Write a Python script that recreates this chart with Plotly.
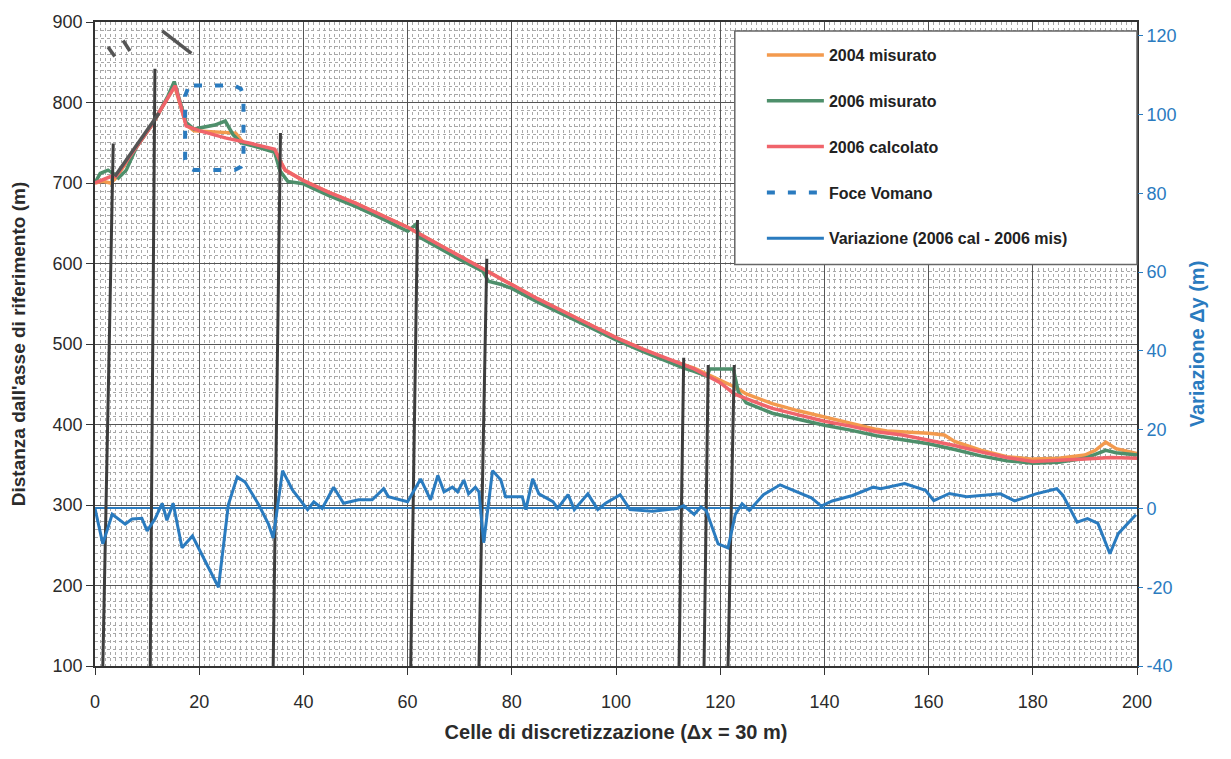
import plotly.graph_objects as go

# ---------------- data ----------------
CALC_X = [0, 1.5, 3, 4, 8, 11, 12.5, 14, 15.4, 16.5, 17.5, 20, 25, 30, 34.5, 35.5, 36.5, 40, 45, 50, 55, 60, 65, 70, 75,
          80, 85, 90, 95, 100, 105, 110, 115, 120, 122.7, 125, 130, 135, 140, 145, 150, 155, 160, 165, 170, 175, 180,
          185, 190, 195, 200]
CALC_Y = [700, 704, 708, 708, 745, 773, 790, 806, 821, 795, 771, 765, 756, 749, 742, 728, 716, 703, 688, 675, 660, 645,
          627, 609, 591, 573, 556, 540, 524, 508, 494, 481, 469, 452, 438, 432, 420, 412, 404, 398, 391, 387, 381, 374,
          366, 359, 354, 355, 357, 359, 358]

MIS06_X = [0, 1, 2.5, 3.5, 4.5, 6, 8, 11, 12.5, 14, 15.2, 16.5, 17.5, 19, 21, 23, 25, 26.5, 28, 31, 34.5, 35.5, 37,
           38.5, 40, 45, 50, 55, 60, 61.5, 62.5, 65, 68, 70, 74.5, 75.5, 78, 80, 85, 90, 95, 100, 105, 110, 113, 115,
           117.5, 118, 122.5, 123.5, 125, 130, 135, 140, 145, 150, 155, 160, 165, 170, 175, 180, 185, 190, 194, 196, 200]
MIS06_Y = [700, 712, 716, 712, 706, 716, 745, 773, 790, 808, 826, 795, 775, 767, 770, 772, 777, 760, 750, 745, 738,
           715, 702, 700, 699, 684, 671, 656, 640, 648, 632, 623, 612, 605, 590, 578, 574, 569, 552, 536, 520, 505,
           491, 478, 470, 466, 460, 469, 469, 440, 427, 414, 406, 399, 393, 386, 381, 376, 369, 361, 355, 352, 353,
           358, 368, 365, 362]

MIS04_X = [0, 1.5, 3, 4, 8, 11, 12.5, 14, 15.3, 16.5, 17.5, 19, 23, 27, 28.5, 31, 34.5, 35.5, 36.5, 40, 45, 50, 55,
           60, 65, 70, 75, 80, 85, 90, 95, 100, 105, 110, 115, 120, 123, 125, 130, 135, 140, 145, 150, 152, 155, 160,
           163, 165, 170, 175, 180, 185, 190, 192, 194, 196, 200]
MIS04_Y = [700, 702, 700, 706, 745, 773, 790, 806, 820, 794, 772, 765, 763, 762, 750, 746, 741, 728, 716, 703, 688,
           675, 660, 645, 627, 609, 591, 573, 556, 540, 524, 508, 494, 481, 470, 455, 446, 438, 426, 417, 409, 402,
           394, 392, 391, 389, 387, 379, 368, 360, 357, 358, 362, 368, 378, 370, 364]

VAR_X = [0, 1.5, 3.3, 5.8, 7.1, 9, 10, 11.5, 12.9, 13.8, 15, 16.7, 18.7, 23.7, 25.6, 27.3, 28.8, 31.4, 33.3, 34.2,
         36, 37.9, 40.8, 42, 43.6, 45.8, 47.7, 50.6, 53.2, 55.4, 56.3, 60, 62.5, 64.4, 65.8, 67, 68.6, 69.6, 70.8,
         71.7, 73, 73.7, 74.6, 76.3, 77.9, 78.8, 82, 82.7, 84, 85.2, 87.9, 88.8, 90.8, 92, 94.6, 96.5, 98, 100.8,
         102.7, 107, 111.7, 113, 115, 116.3, 117.3, 119.6, 121.5, 122.9, 124.2, 125.6, 128.3, 131.5, 137.5, 139.4,
         141.5, 145.4, 149.4, 150.8, 155.4, 159.4, 161, 164, 167.3, 173.8, 176.5, 180.6, 184.6, 185.8, 188.5, 190.5,
         192.5, 194.8, 196.4, 199.8]
VAR_Y = [0, -9, -1.5, -4, -2.7, -2.5, -5.7, -2.7, 1.3, -3, 1.3, -10, -7, -20, 1, 8, 6.7, 1, -4, -7.5,
         9.6, 4.7, -0.3, 1.7, 0, 5.4, 1.3, 2.2, 2.2, 5, 3, 1.7, 7.5, 2.2, 8.4, 4.2, 5.4, 4.2, 7.2,
         3.7, 5.4, 4.2, -8.7, 9.6, 7.2, 3, 3, -0.3, 7.5, 3.7, 1.7, 0, 3.5, -0.3, 3.7, -0.3, 1.3, 3.5,
         -0.3, -0.7, 0, 0.7, -1.5, 0.4, -0.5, -9, -10, -1.5, 1.2, -0.5, 3.5, 6, 2.7, 0.6,
         1.9, 3.3, 5.4, 5, 6.3, 4.6, 2, 3.8, 3, 3.7, 1.9, 3.7, 5, 3.3, -3.5, -2.6,
         -3.8, -11.5, -6.4, -1.6]

# river mouth outline (Foce Vomano)
FOCE_X = [19.0, 26.8, 28.0, 28.5, 28.5, 28.0, 26.8, 19.0, 17.8, 17.3, 17.3, 17.8, 19.0]
FOCE_Y = [821, 821, 817, 808, 729, 720, 716, 716, 720, 729, 808, 817, 821]

# groynes (pennelli)
GROYNE_X_BOTTOM = [1.5, 10.6, 34.2, 60.6, 73.7, 112.1, 116.9, 121.5]
GROYNE_X_TOP = [3.5, 11.5, 35.6, 61.9, 75.2, 113.0, 117.7, 122.7]
GROYNE_Y_TOP = [749, 842, 762, 654, 606, 483, 474, 474]
GROYNE_Y_BOTTOM = 100

# seawall and offshore breakwaters
WALL_X = [3.8, 12.3]
WALL_Y = [708, 787]
BW_X0 = [2.5, 5.4, 12.9]
BW_Y0 = [869, 877, 889]
BW_X1 = [3.8, 6.7, 18.5]
BW_Y1 = [857, 864, 861]

Y2_TICKS = [-40, -20, 0, 20, 40, 60, 80, 100, 120]
Y2_LABELS = ["-40", "-20", "0", "20", "40", "60", "80", "100", "120"]

C_ORANGE = "#f39a4e"
C_GREEN = "#4e8f6b"
C_RED = "#f0646b"
C_BLUE = "#2a7bbf"
C_GREY = "#3d3d3d"
FONT = "Liberation Sans"

fig = go.Figure()

fig.add_trace(go.Scatter(x=MIS04_X, y=MIS04_Y, mode="lines", name="2004 misurato", legendgroup="a",
                         line=dict(color=C_ORANGE, width=3.5)))
fig.add_trace(go.Scatter(x=MIS06_X, y=MIS06_Y, mode="lines", name="2006 misurato", legendgroup="b",
                         line=dict(color=C_GREEN, width=3.5)))
fig.add_trace(go.Scatter(x=CALC_X, y=CALC_Y, mode="lines", name="2006 calcolato", legendgroup="c",
                         line=dict(color=C_RED, width=3.5)))
fig.add_trace(go.Scatter(x=FOCE_X, y=FOCE_Y, mode="lines", name="Foce Vomano", legendgroup="d",
                         line=dict(color=C_BLUE, width=4, dash="8px,13px")))
fig.add_trace(go.Scatter(x=VAR_X, y=VAR_Y, mode="lines", name="Variazione (2006 cal - 2006 mis)", legendgroup="e",
                         yaxis="y2", line=dict(color=C_BLUE, width=3)))

# structures
for xb, xt, yt in zip(GROYNE_X_BOTTOM, GROYNE_X_TOP, GROYNE_Y_TOP):
    fig.add_trace(go.Scatter(x=[xb, xt], y=[GROYNE_Y_BOTTOM, yt], mode="lines", showlegend=False,
                             hoverinfo="skip", line=dict(color=C_GREY, width=3)))
fig.add_trace(go.Scatter(x=WALL_X, y=WALL_Y, mode="lines", showlegend=False, hoverinfo="skip",
                         line=dict(color="#555555", width=3.5)))
for x0, y0, x1, y1 in zip(BW_X0, BW_Y0, BW_X1, BW_Y1):
    fig.add_trace(go.Scatter(x=[x0, x1], y=[y0, y1], mode="lines", showlegend=False, hoverinfo="skip",
                             line=dict(color="#555555", width=3.5)))

# legend box
fig.add_shape(type="rect", xref="paper", yref="paper", x0=0.614, x1=1.0, y0=0.6235, y1=0.986,
              fillcolor="white", line=dict(color="#666666", width=1.5), layer="above")

tickfont = dict(family=FONT, size=18, color="#2b2b2b")
fig.update_layout(
    width=1231, height=759,
    margin=dict(l=95, r=94, t=18, b=93),
    paper_bgcolor="white", plot_bgcolor="white",
    showlegend=True,
    legend=dict(x=0.64, y=0.975, xanchor="left", yanchor="top", bgcolor="rgba(0,0,0,0)",
                font=dict(family=FONT, size=16, color="#222222", weight="bold"),
                itemwidth=57, tracegroupgap=22, traceorder="grouped"),
    xaxis=dict(range=[0, 200], tick0=0, dtick=20, showgrid=True, gridcolor="#555555", gridwidth=1,
               minor=dict(dtick=1, showgrid=True, gridcolor="#a8a8a8", griddash="dot", gridwidth=1),
               ticks="outside", ticklen=7, tickcolor="#333", showline=True, mirror=True,
               linecolor="#333333", linewidth=1.5, zeroline=False, tickfont=tickfont, ticklabelstandoff=12,
               title=dict(text="Celle di discretizzazione (Δx = 30 m)",
                          font=dict(family=FONT, size=20, color="#2b2b2b", weight="bold"), standoff=14)),
    yaxis=dict(range=[100, 900], tick0=100, dtick=100, showgrid=True, gridcolor="#555555", gridwidth=1,
               minor=dict(dtick=10, showgrid=True, gridcolor="#a8a8a8", griddash="dot", gridwidth=1),
               ticks="outside", ticklen=7, tickcolor="#333", showline=True, mirror=True,
               linecolor="#333333", linewidth=1.5, zeroline=False, tickfont=tickfont,
               title=dict(text="Distanza dall'asse di riferimento (m)",
                          font=dict(family=FONT, size=19, color="#2b2b2b", weight="bold"), standoff=22)),
    yaxis2=dict(overlaying="y", side="right", range=[-40, 123.5], tickvals=Y2_TICKS, ticktext=Y2_LABELS,
                showgrid=False, zeroline=True, zerolinecolor=C_BLUE, zerolinewidth=1.5,
                ticks="outside", ticklen=5, tickcolor=C_BLUE,
                tickfont=dict(family=FONT, size=18, color=C_BLUE),
                title=dict(text="Variazione Δy (m)",
                           font=dict(family=FONT, size=20, color=C_BLUE, weight="bold"), standoff=14)),
)

fig.write_html("out.html")
